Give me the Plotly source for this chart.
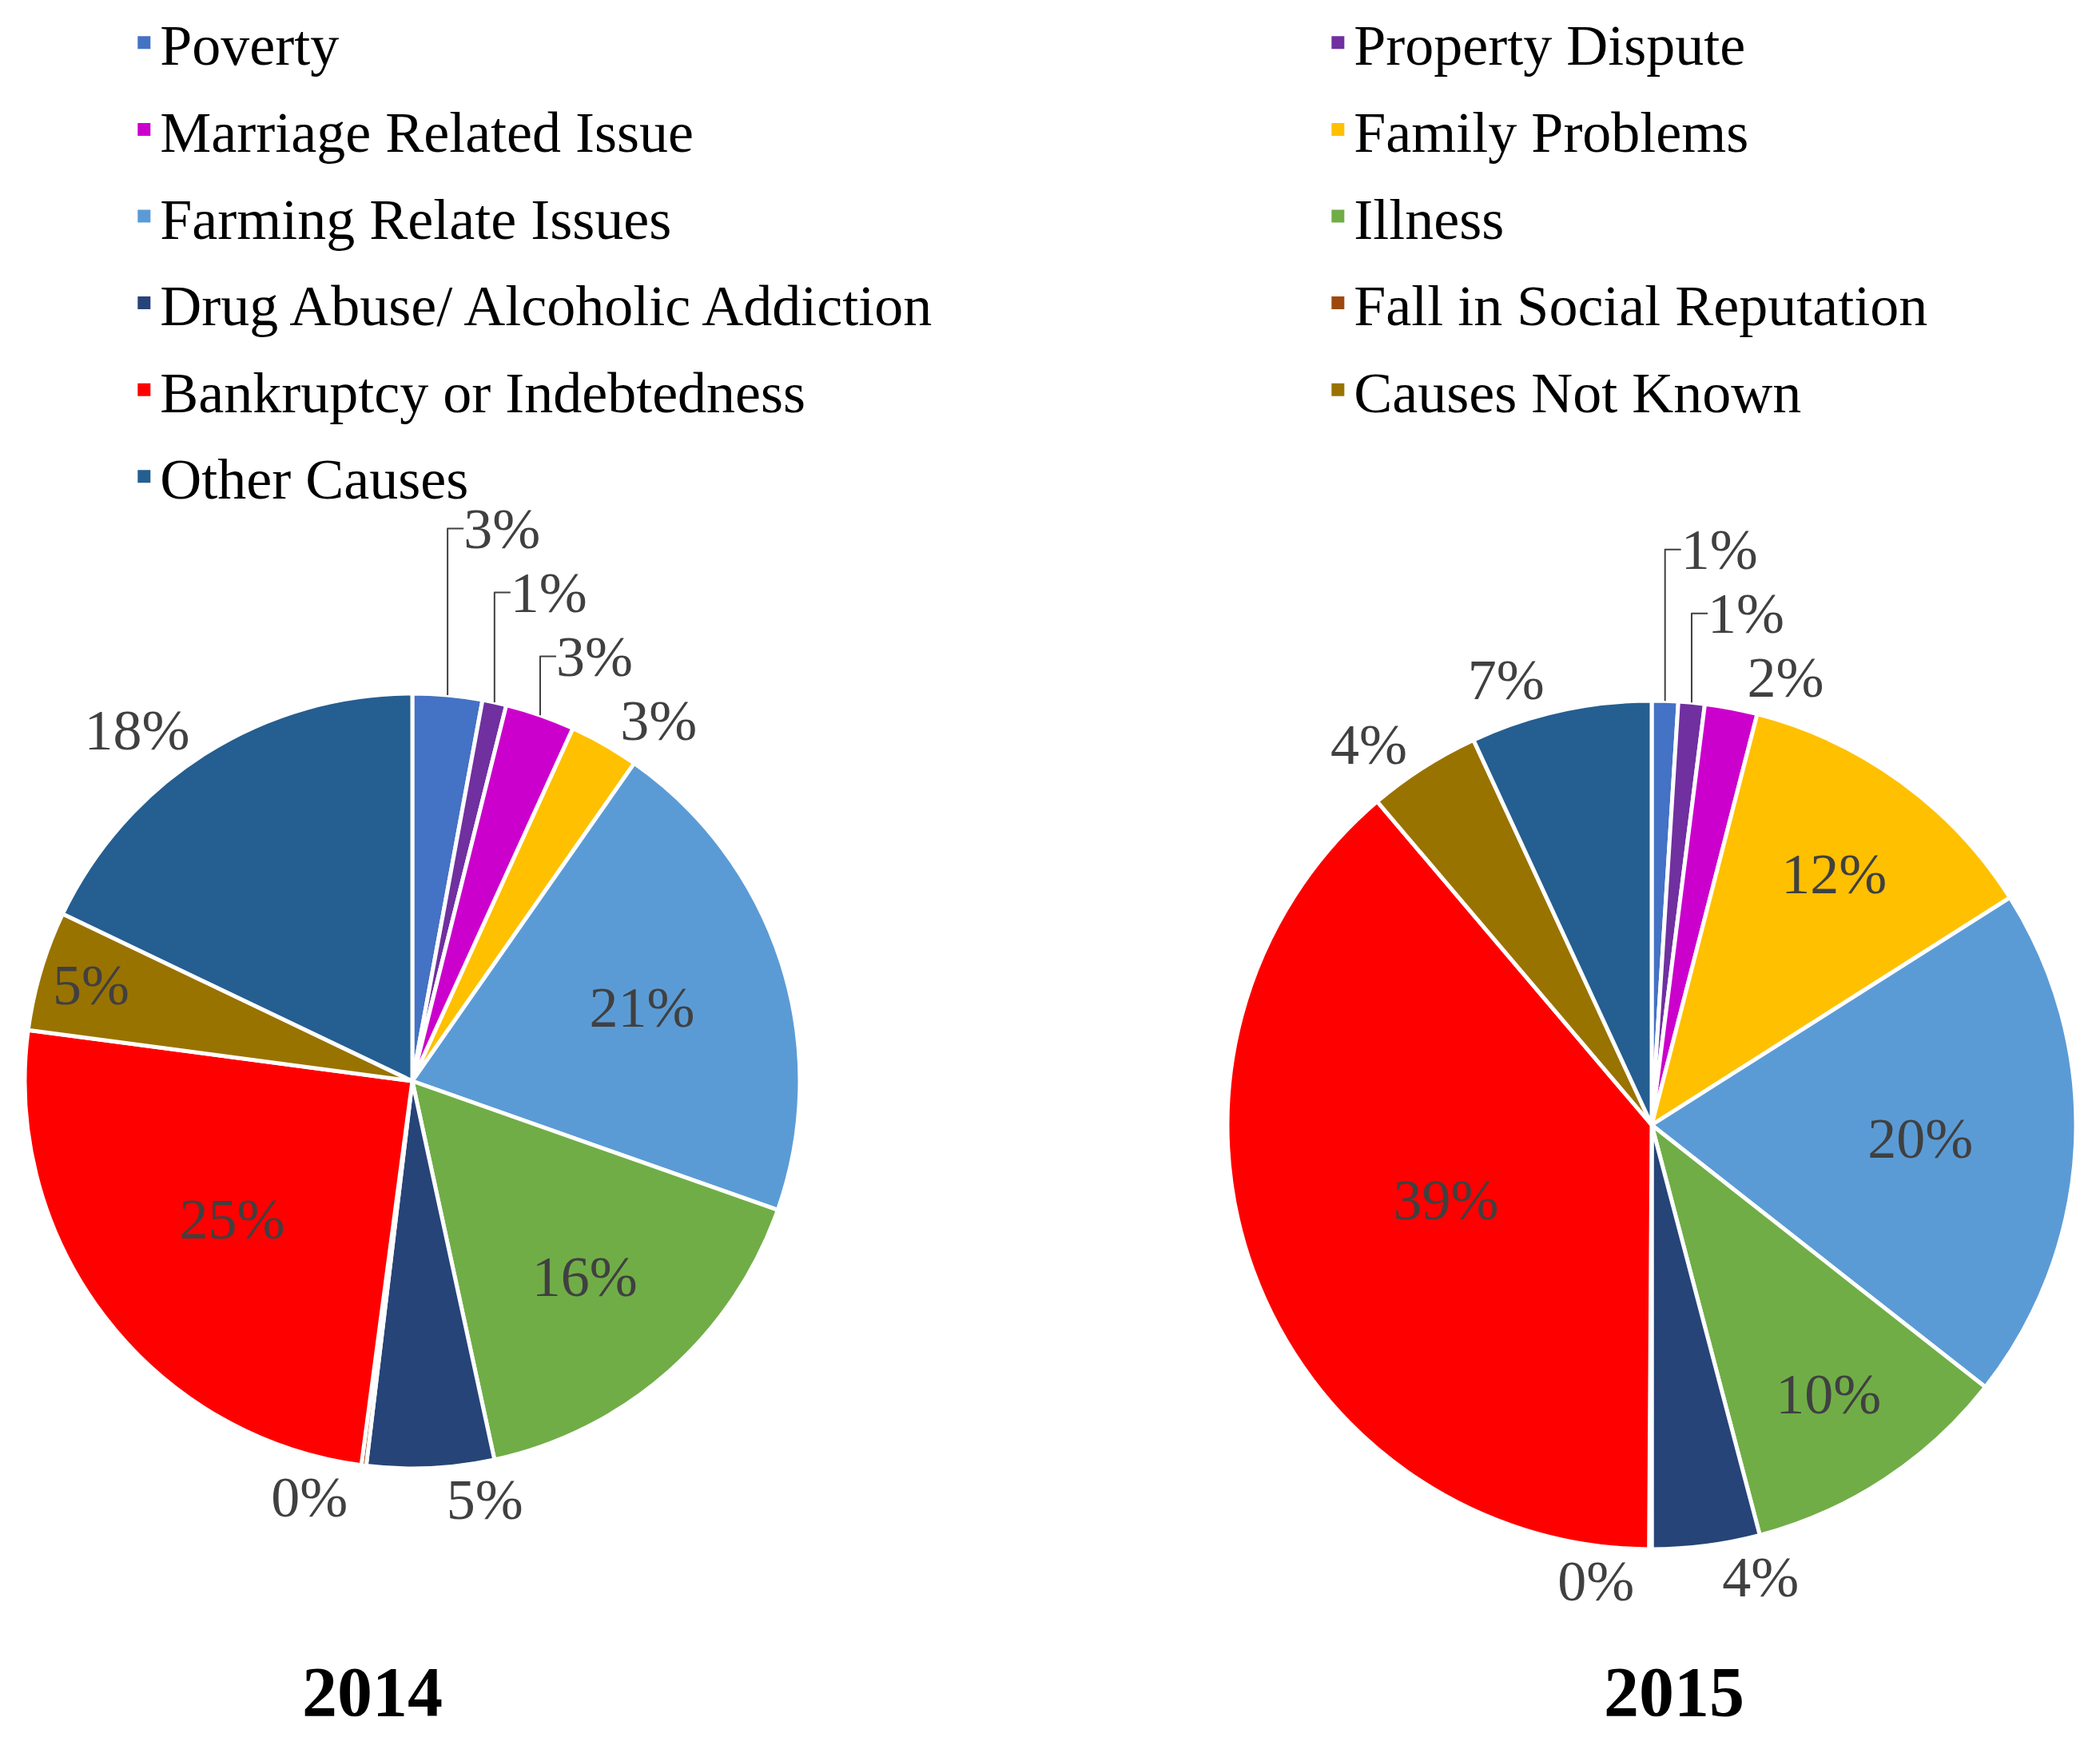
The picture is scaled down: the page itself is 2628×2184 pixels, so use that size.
import plotly.graph_objects as go

categories = ["Poverty", "Property Dispute", "Marriage Related Issue", "Family Problems",
              "Farming Relate Issues", "Illness", "Drug Abuse/ Alcoholic Addiction",
              "Fall in Social Reputation", "Bankruptcy or Indebtedness", "Causes Not Known",
              "Other Causes"]
colors = ["#4472C4", "#7030A0", "#CC00CC", "#FFC000", "#5B9BD5", "#70AD47",
          "#264478", "#9E480E", "#FF0000", "#997300", "#255E91"]
share_2014 = [2.9, 1.0, 2.9, 2.9, 20.7, 16.2, 5.3, 0.2, 25.0, 5.0, 17.9]
share_2015 = [1.0, 1.0, 2.0, 12.0, 19.6, 10.3, 4.1, 0.1, 38.7, 4.3, 6.9]
pos_2014 = ["outside", "outside", "outside", "outside", "inside", "inside",
            "outside", "outside", "inside", "inside", "outside"]
pos_2015 = ["outside", "outside", "outside", "inside", "inside", "inside",
            "outside", "outside", "inside", "outside", "outside"]
years = ["2014", "2015"]

W, H = 2628, 2184
FONT = "Times New Roman, Liberation Serif, serif"

domains = [
    dict(x=[31 / W, 1001 / W], y=[1 - 1838 / H, 1 - 868 / H]),
    dict(x=[1536 / W, 2598 / W], y=[1 - 1939 / H, 1 - 877 / H]),
]
title_x = [466 / W, 2095 / W]

fig = go.Figure()
for vals, pos, dom in zip([share_2014, share_2015], [pos_2014, pos_2015], domains):
    fig.add_trace(go.Pie(
        labels=categories, values=vals, sort=False, direction="clockwise", rotation=0,
        marker=dict(colors=colors, line=dict(color="white", width=5)),
        texttemplate="%{percent:.0%}", textposition=pos,
        insidetextorientation="horizontal",
        textfont=dict(family=FONT, size=72, color="#404040"),
        domain=dom, showlegend=False, hoverinfo="label+percent",
    ))

# legend entries (two columns, row-major order as in the original)
for i, (cat, col) in enumerate(zip(categories, colors)):
    fig.add_trace(go.Scatter(
        x=[None], y=[None], mode="markers", name=cat,
        marker=dict(symbol="square", size=16, color=col),
        legend="legend" if i % 2 == 0 else "legend2", legendgroup=cat,
    ))

leg_common = dict(font=dict(family=FONT, size=72, color="black"), tracegroupgap=12,
                  orientation="v", yanchor="top", y=1.0, xanchor="left",
                  bgcolor="rgba(0,0,0,0)", itemsizing="trace")

for yr, tx in zip(years, title_x):
    fig.add_annotation(text="<b>%s</b>" % yr, x=tx,
                       y=1 - 2117 / H, xref="paper", yref="paper", showarrow=False,
                       font=dict(family=FONT, size=88, color="black"),
                       xanchor="center", yanchor="middle")

fig.update_layout(
    width=W, height=H, margin=dict(l=0, r=0, t=0, b=0, autoexpand=False),
    paper_bgcolor="white", plot_bgcolor="white",
    xaxis=dict(visible=False), yaxis=dict(visible=False),
    legend=dict(x=0.061, **leg_common),
    legend2=dict(x=0.6295, **leg_common),
)

fig.write_html("out.html", config={"displayModeBar": False},
               post_script="document.body.style.margin='0';")
